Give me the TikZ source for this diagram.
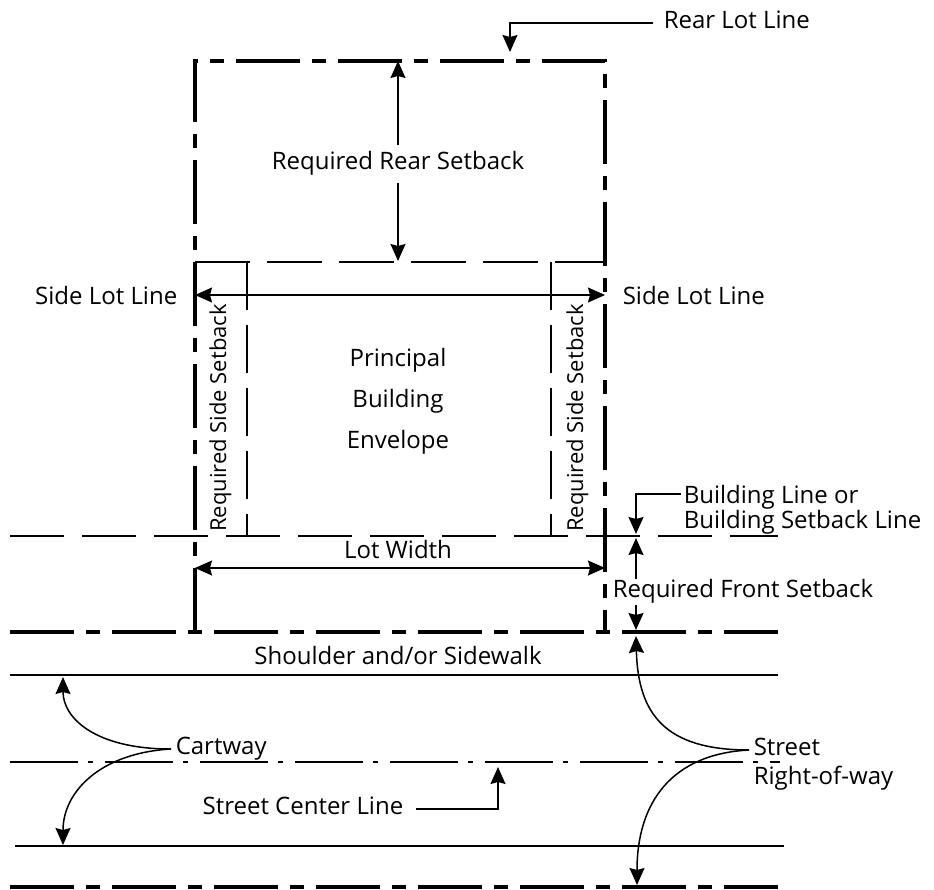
\documentclass[tikz,border=0pt]{standalone}
\usepackage{fontspec}
\setmainfont{Open Sans}
\usetikzlibrary{arrows.meta, positioning}

\begin{document}
\begin{tikzpicture}[x=0.5pt, y=-0.5pt, line width=0.75pt, >={Stealth[length=8.5pt,width=7.5pt,inset=1pt]}]
    \tikzstyle{lot line}=[line width=1.7pt, dash pattern=on 32pt off 6pt on 7pt off 6pt]
    \tikzstyle{building line}=[dash pattern=on 27pt off 9pt]
    \tikzstyle{setback line}=[dash pattern=on 27.5pt off 8.5pt]
    \tikzstyle{side setback}=[dash pattern=on 24pt off 7.5pt]
    \tikzstyle{center line}=[line width=0.6pt, dash pattern=on 34pt off 5pt on 2.5pt off 6pt]
    \tikzstyle{annot}=[font=\fontsize{12}{14}\selectfont, inner sep=2pt, text height=0.75em, text depth=0.25em]
    \tikzstyle{side annot}=[annot, font=\fontsize{11}{13}\selectfont, rotate=90]

    \useasboundingbox (0,0) rectangle (934,890);

    % lot and setback lines
    \coordinate (lot-NW) at (195,61);
    \coordinate (lot-NE) at (605,61);
    \coordinate (lot-SW) at (195,632);
    \coordinate (lot-SE) at (605,632);
    \draw[lot line] (lot-SW) -- (lot-NW) -- (lot-NE) -- (lot-SE);
    \draw[lot line] (10,632) -- (778,632);
    \draw[lot line] (10,887) -- (778,887);
    \draw[building line] (10,536) -- (778,536);
    \draw (10,675) -- (778,675);
    \draw[center line] (10,762) -- (780,762);
    \draw (15,846) -- (784,846);
    \draw[setback line] (195,262) -- (605,262);
    \draw[side setback] (247,262) -- (247,536);
    \draw[side setback] (551,262) -- (551,536);

    % dimensions
    \node[annot, inner sep=4pt] (rear-sb) at (398,164) {Required Rear Setback};
    \coordinate (rear-top) at (398,61);
    \coordinate (rear-bot) at (398,261);
    \draw[->] (rear-sb) -- (rear-top);
    \draw[->] (rear-sb) -- (rear-bot);

    \coordinate (side-W) at (195,295);
    \coordinate (side-E) at (605,295);
    \draw[<->] (side-W) -- (side-E);
    \node[annot, anchor=east] (side-left) at (182,299) {Side Lot Line};
    \node[annot, anchor=west] (side-right) at (618,299) {Side Lot Line};

    \coordinate (lw-W) at (195,568);
    \coordinate (lw-E) at (605,568);
    \draw[<->] (lw-W) -- (lw-E);
    \node[annot] (lot-width) at (398,553) {Lot Width};

    \node[annot, font=\fontsize{12}{20.5}\selectfont, align=center, text height=, text depth=] (envelope) at (398,401) {Principal\\Building\\Envelope};
    \node[side annot] (sb-left) at (221,418) {Required Side Setback};
    \node[side annot] (sb-right) at (578,418) {Required Side Setback};

    \node[annot, anchor=west, inner sep=1pt] (front-sb) at (610,592) {Required Front Setback};
    \coordinate (fs-top) at (636,538);
    \coordinate (fs-bot) at (636,630);
    \draw[->] (front-sb.north -| fs-top) -- (fs-top);
    \draw[->] (front-sb.south -| fs-top) -- (fs-bot);

    \node[annot] (shoulder) at (398,659) {Shoulder and/or Sidewalk};

    % leaders
    \node[annot, anchor=west] (rear-lot) at (659,23) {Rear Lot Line};
    \coordinate (rl-tip) at (510,52);
    \draw[->] ([xshift=-3pt]rear-lot.west) -| (rl-tip);

    \node[annot, anchor=west, inner sep=1pt] (bl-1) at (681,498) {Building Line or};
    \node[annot, anchor=north west, inner sep=1pt] (bl-2) at (bl-1.south west) {Building Setback Line};
    \coordinate (bl-tip) at (636,534);
    \draw[->] ([yshift=2pt]bl-1.west) -| (bl-tip);

    \node[annot, anchor=west] (cartway) at (171,749) {Cartway};
    \coordinate (cw-up) at (63,677);
    \coordinate (cw-down) at (63,845);
    \draw[->] (cartway.west) .. controls (95,749) and (63,718) .. (cw-up);
    \draw[->] (cartway.west) .. controls (100,753) and (63,792) .. (cw-down);

    \node[annot, anchor=east] (center) at (408,809) {Street Center Line};
    \coordinate (cl-tip) at (498,767);
    \draw[->] ([xshift=4pt]center.east) -| (cl-tip);

    \node[annot, anchor=west] (row-1) at (749,750) {Street};
    \node[annot, anchor=north west] (row-2) at (row-1.south west) {Right-of-way};
    \coordinate (row-up) at (636,636);
    \coordinate (row-down) at (637,885);
    \draw[->] (row-1.west) .. controls (665,750) and (638,714) .. (row-up);
    \draw[->] (row-1.west) .. controls (672,754) and (637,802) .. (row-down);
\end{tikzpicture}
\end{document}
